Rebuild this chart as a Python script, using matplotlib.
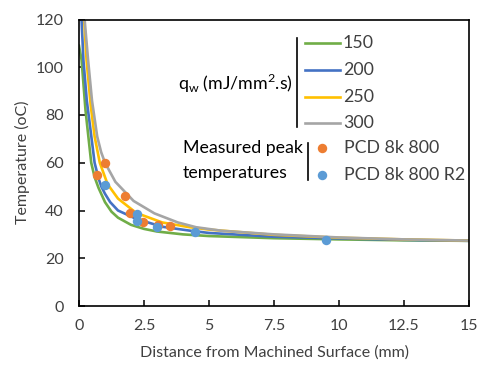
import matplotlib
matplotlib.use("Agg")
import matplotlib.pyplot as plt
from matplotlib.lines import Line2D

plt.rcParams['font.family'] = ['Lato', 'DejaVu Sans']
plt.rcParams['mathtext.fontset'] = 'custom'
plt.rcParams['mathtext.rm'] = 'Lato'

# ---- data ----
series_labels = ["150", "200", "250", "300"]
green_x = [0, 0.1, 0.25, 0.33, 0.47, 0.6, 0.75, 1.0, 1.25, 1.5, 2.0, 2.5, 3.0, 4.0, 5.0, 7.5, 10, 12.5, 15]
green_y = [109, 103, 82, 74, 60, 54, 49.5, 43.5, 39.5, 37, 34, 32.3, 31.2, 30, 29.3, 28.4, 27.9, 27.5, 27.3]
blue_x = [0.08, 0.1, 0.17, 0.3, 0.44, 0.6, 0.75, 0.86, 1.0, 1.2, 1.5, 2.2, 3.2, 4.3, 5.0, 7.5, 10, 12.5, 15]
blue_y = [122, 119.5, 103, 86, 74, 60, 53.5, 50, 47, 43.5, 40, 36.5, 33.2, 31.5, 30.6, 29, 28.3, 27.7, 27.3]
yellow_x = [0.15, 0.2, 0.29, 0.45, 0.6, 0.8, 1.1, 1.5, 2.2, 3.2, 4.25, 5.0, 7.5, 10, 12.5, 15]
yellow_y = [125, 119.5, 103, 84, 71, 60, 51, 45, 39, 35, 33, 32, 29.8, 28.6, 27.9, 27.4]
gray_x = [0.18, 0.22, 0.35, 0.5, 0.7, 0.85, 1.0, 1.4, 2.1, 2.9, 3.8, 4.5, 5.5, 7.5, 10, 12.5, 15]
gray_y = [125, 119.5, 103, 86, 71, 64.5, 60, 52, 44, 38.8, 35, 33, 31.5, 30, 28.7, 27.9, 27.4]

meas1_label = "PCD 8k 800"
meas1_x = [0.71, 1.0, 1.76, 1.95, 2.48, 3.02, 3.51]
meas1_y = [54.8, 59.9, 46.0, 39.0, 35.0, 33.9, 33.4]
meas2_label = "PCD 8k 800 R2"
meas2_x = [1.0, 2.22, 2.22, 3.0, 4.47, 9.49]
meas2_y = [50.6, 38.7, 35.7, 32.9, 31.1, 27.6]

x_ticks = [0, 2.5, 5, 7.5, 10, 12.5, 15]
x_ticklabels = ["0", "2.5", "5", "7.5", "10", "12.5", "15"]
y_ticks = [0, 20, 40, 60, 80, 100, 120]

# ---- styling ----
c_green, c_blue, c_yellow, c_gray = "#70AD47", "#4472C4", "#FFC000", "#A5A5A5"
c_orange, c_lblue = "#ED7D31", "#5B9BD5"
fs_tick = 11.5
fs_lab = 11.5
fs_leg = 12.8
tc = "#404040"

fig = plt.figure(figsize=(4.81, 3.65), dpi=100)
ax = fig.add_axes([79 / 481, 1 - 306 / 365, 390 / 481, 286.5 / 365])

lw = 1.9
ax.plot(green_x, green_y, color=c_green, lw=lw, solid_joinstyle='round')
ax.plot(blue_x, blue_y, color=c_blue, lw=lw, solid_joinstyle='round')
ax.plot(yellow_x, yellow_y, color=c_yellow, lw=lw, solid_joinstyle='round')
ax.plot(gray_x, gray_y, color=c_gray, lw=lw, solid_joinstyle='round')
ms = 6.8
ax.plot(meas1_x, meas1_y, 'o', color=c_orange, ms=ms, mec='none', zorder=5)
ax.plot(meas2_x, meas2_y, 'o', color=c_lblue, ms=ms, mec='none', zorder=6)

ax.set_xlim(0, 15)
ax.set_ylim(0, 120)
ax.set_xticks(x_ticks)
ax.set_xticklabels(x_ticklabels)
ax.set_yticks(y_ticks)
ax.tick_params(direction='in', length=4, width=1.1, labelsize=fs_tick, colors='black',
               labelcolor=tc)
ax.tick_params(axis='y', pad=11)
ax.tick_params(axis='x', pad=9)
for s in ax.spines.values():
    s.set_linewidth(1.2)
    s.set_color('black')

ax.set_xlabel("Distance from Machined Surface (mm)", fontsize=fs_lab, color=tc, labelpad=9.5)
ax.set_ylabel("Temperature (oC)", fontsize=fs_lab, color=tc, labelpad=4)

# ---- custom legend ----
T = ax.transAxes
def ax_pt(px, py):
    return ((px - 79) / 390, (306 - py) / 286.5)

line_cols = [c_green, c_blue, c_yellow, c_gray]
ys = [43.3, 70, 96.7, 123.3]
for col, lab, py in zip(line_cols, series_labels, ys):
    (x0, y0) = ax_pt(305, py)
    (x1, _) = ax_pt(340, py)
    ax.add_line(Line2D([x0, x1], [y0, y0], transform=T, color=col, lw=lw, clip_on=False))
    lx, ly = ax_pt(343, py)
    ax.text(lx, ly, lab, transform=T, fontsize=fs_leg, color=tc, va='center', ha='left')

bx, by0 = ax_pt(297, 38)
_, by1 = ax_pt(297, 127)
ax.add_line(Line2D([bx, bx], [by0, by1], transform=T, color='black', lw=1.2, clip_on=False))
qx, qy = ax_pt(293, 83)
ax.text(qx, qy, "q$_\\mathregular{w}$ (mJ/mm$^\\mathregular{2}$.s)", transform=T,
        fontsize=fs_leg, color='black', va='center', ha='right')

bx, by0 = ax_pt(308, 143)
_, by1 = ax_pt(308, 180)
ax.add_line(Line2D([bx, bx], [by0, by1], transform=T, color='black', lw=1.2, clip_on=False))
for col, lab, py in [(c_orange, meas1_label, 148), (c_lblue, meas2_label, 175)]:
    mx, my = ax_pt(322, py)
    ax.plot([mx], [my], 'o', color=col, ms=ms, mec='none', transform=T, clip_on=False)
    lx, ly = ax_pt(344, py)
    ax.text(lx, ly, lab, transform=T, fontsize=fs_leg, color=tc, va='center', ha='left')
mx, my = ax_pt(183, 148)
ax.text(mx, my, "Measured peak", transform=T, fontsize=fs_leg, color='black', va='center', ha='left')
mx, my = ax_pt(183, 173)
ax.text(mx, my, "temperatures", transform=T, fontsize=fs_leg, color='black', va='center', ha='left')

fig.savefig("out.png", dpi=100)
